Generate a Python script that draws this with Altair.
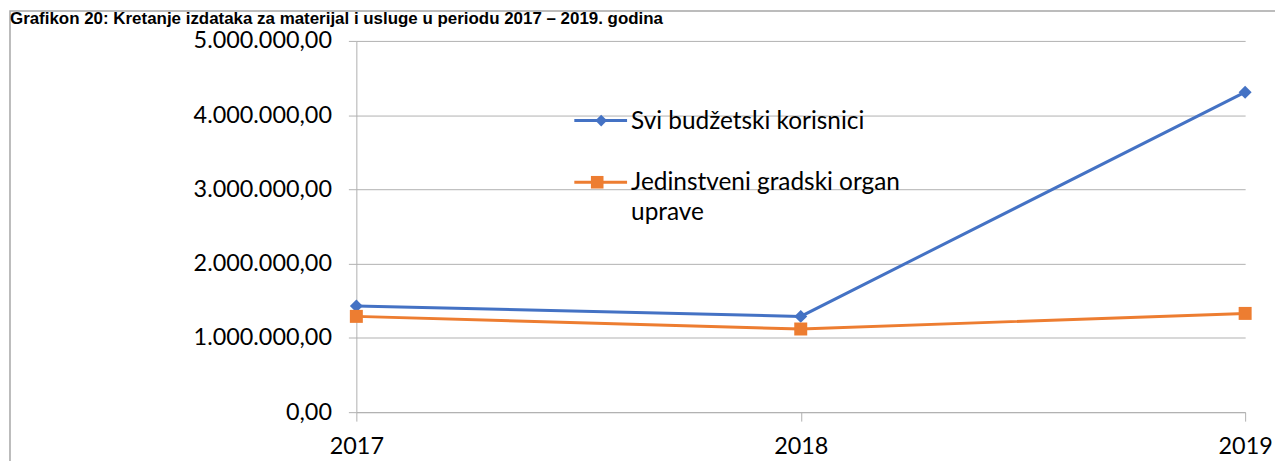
import altair as alt
import pandas as pd

years = [2017, 2018, 2019]
svi_values = [1430000, 1290000, 4310000]
jgou_values = [1290000, 1120000, 1330000]
series_names = ["Svi budžetski korisnici", "Jedinstveni gradski organ uprave"]
legend_label_2 = ["Jedinstveni gradski organ", "uprave"]
y_ticks = [0, 1000000, 2000000, 3000000, 4000000, 5000000]
title_text = "Grafikon 20: Kretanje izdataka za materijal i usluge u periodu 2017 – 2019. godina"
colors = ["#4472C4", "#ED7D31"]

df = pd.DataFrame({
    "year": [str(y) for y in years] * 2,
    "value": svi_values + jgou_values,
    "series": [series_names[0]] * 3 + [series_names[1]] * 3,
})

W, H = 893, 373
FONT = "Lato"
GRID = "#b0b0b0"
LBL = 23.5

label_expr = ("replace(replace(replace(format(datum.value, ',.2f'), regexp(',', 'g'), '#'), "
              "'.', ','), regexp('#', 'g'), '.')")

x_enc = alt.X("year:O", title=None, sort=[str(y) for y in years],
              scale=alt.Scale(type="point", padding=0),
              axis=alt.Axis(labelAngle=0, grid=False, tickSize=9, labelOverlap=False,
                            labelPadding=14, labelFontSize=LBL, labelFont=FONT,
                            labelColor="#000000", domainColor=GRID, tickColor=GRID))
y_enc = alt.Y("value:Q", title=None,
              scale=alt.Scale(domain=[0, 5000000], nice=False),
              axis=alt.Axis(values=y_ticks, labelExpr=label_expr, tickSize=8,
                            labelPadding=17, labelFontSize=LBL, labelFont=FONT,
                            labelColor="#000000", domainColor=GRID, tickColor=GRID,
                            gridColor=GRID, grid=True))
color_enc = alt.Color("series:N", scale=alt.Scale(domain=series_names, range=colors),
                      legend=None)

base = alt.Chart(df).encode(x=x_enc, y=y_enc, color=color_enc)
lines = base.mark_line(strokeWidth=3)
diamonds = base.transform_filter(alt.datum.series == series_names[0]).mark_point(
    shape="diamond", filled=True, size=170, opacity=1)
squares = base.transform_filter(alt.datum.series == series_names[1]).mark_point(
    shape="square", filled=True, size=170, opacity=1)

one = pd.DataFrame({"k": [0]})

frame = alt.Chart(one).mark_rect(fill="transparent", stroke="#a6a6a6", strokeWidth=1.5).encode(
    x=alt.value(-348), y=alt.value(-30), x2=alt.value(2000), y2=alt.value(2000))

title = alt.Chart(one).mark_text(align="left", baseline="alphabetic", font="Liberation Sans",
                                 fontWeight="bold", fontSize=17, color="#000000").encode(
    x=alt.value(-348), y=alt.value(-17), text=alt.value(title_text))

leg1_line = alt.Chart(one).mark_rule(strokeWidth=3, color=colors[0]).encode(
    x=alt.value(219), x2=alt.value(272), y=alt.value(80))
leg1_pt = alt.Chart(one).mark_point(shape="diamond", filled=True, size=140, opacity=1,
                                    color=colors[0]).encode(x=alt.value(246), y=alt.value(80))
leg1_txt = alt.Chart(one).mark_text(align="left", baseline="middle", font=FONT, fontSize=24.5,
                                    color="#000000").encode(
    x=alt.value(276), y=alt.value(81), text=alt.value(series_names[0]))

leg2_line = alt.Chart(one).mark_rule(strokeWidth=3, color=colors[1]).encode(
    x=alt.value(219), x2=alt.value(272), y=alt.value(142))
leg2_pt = alt.Chart(one).mark_point(shape="square", filled=True, size=160, opacity=1,
                                    color=colors[1]).encode(x=alt.value(242), y=alt.value(142))
leg2_txt = alt.Chart(one).mark_text(align="left", baseline="middle", font=FONT, fontSize=24.5,
                                    lineHeight=30, color="#000000").encode(
    x=alt.value(276), y=alt.value(143), text=alt.value(legend_label_2))

chart = alt.layer(
    frame, title, lines, diamonds, squares,
    leg1_line, leg1_pt, leg1_txt, leg2_line, leg2_pt, leg2_txt,
).properties(
    width=W, height=H,
    autosize=alt.AutoSizeParams(type="none"),
    padding={"left": 350, "top": 32, "right": 30, "bottom": 48},
    background="white",
).configure_view(stroke=None)

chart.save("out.html", embed_options={"renderer": "svg", "actions": False})
